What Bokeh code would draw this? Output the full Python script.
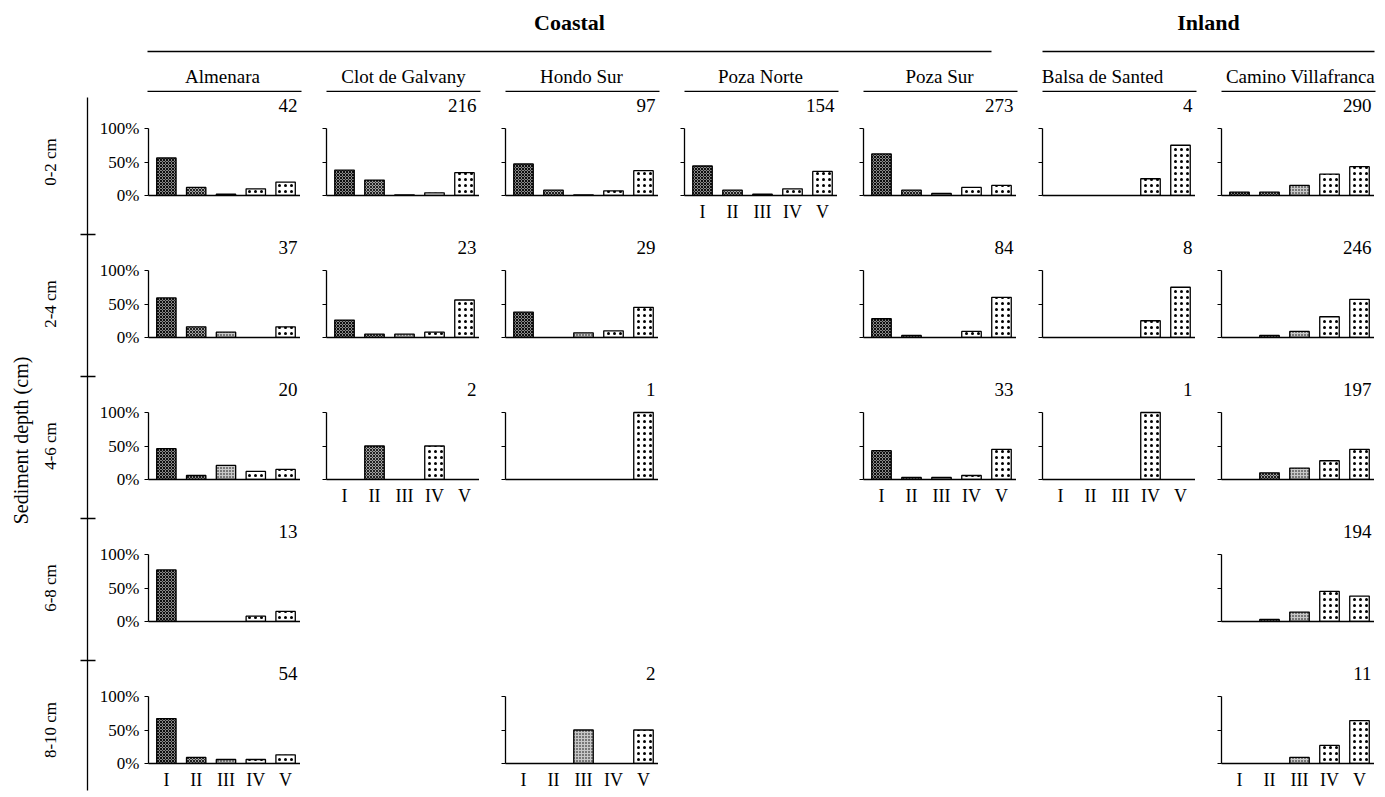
import math
from bokeh.plotting import figure
from bokeh.layouts import row, column
from bokeh.models import Range1d, FixedTicker, Spacer, ColumnDataSource
from bokeh.core.properties import value
from bokeh.embed import file_html
from bokeh.resources import INLINE

# ---------------- data ----------------
classes = ["I", "II", "III", "IV", "V"]
depths = ["0-2 cm", "2-4 cm", "4-6 cm", "6-8 cm", "8-10 cm"]
sites = ["Almenara", "Clot de Galvany", "Hondo Sur", "Poza Norte", "Poza Sur",
         "Balsa de Santed", "Camino Villafranca"]
groups = ["Coastal", "Inland"]
group_sites = [[0, 1, 2, 3, 4], [5, 6]]

# sample counts per depth (None = no panel)
n_almenara = [42, 37, 20, 13, 54]
n_clot = [216, 23, 2, None, None]
n_hondo = [97, 29, 1, None, 2]
n_pozanorte = [154, None, None, None, None]
n_pozasur = [273, 84, 33, None, None]
n_balsa = [4, 8, 1, None, None]
n_camino = [290, 246, 197, 194, 11]

# percentage of each class (I..V) per depth
pct_almenara = [[56, 12, 2, 10, 20], [59, 16, 8, 0, 16], [46, 6, 21, 12, 15],
                [77, 0, 0, 8, 15], [67, 9, 6, 6, 13]]
pct_clot = [[38, 23, 1, 4, 34], [26, 5, 5, 8, 56], [0, 50, 0, 50, 0], None, None]
pct_hondo = [[47, 8, 1, 7, 37], [38, 0, 7, 10, 45], [0, 0, 0, 0, 100], None,
             [0, 0, 50, 0, 50]]
pct_pozanorte = [[44, 8, 2, 10, 36], None, None, None, None]
pct_pozasur = [[62, 8, 3, 12, 15], [28, 3, 0, 9, 60], [43, 3, 3, 6, 45], None, None]
pct_balsa = [[0, 0, 0, 25, 75], [0, 0, 0, 25, 75], [0, 0, 0, 100, 0], None, None]
pct_camino = [[5, 5, 15, 32, 43], [0, 3, 9, 31, 57], [0, 10, 17, 28, 45],
              [0, 3, 14, 45, 38], [0, 0, 9, 27, 64]]

site_n = [n_almenara, n_clot, n_hondo, n_pozanorte, n_pozasur, n_balsa, n_camino]
site_pct = [pct_almenara, pct_clot, pct_hondo, pct_pozanorte, pct_pozasur,
            pct_balsa, pct_camino]

# ---------------- styles / layout ----------------
FONT = "Liberation Serif"
class_fill = ["#8a8a8a", "#a3a3a3", "#c8c8c8", "white", "white"]
class_hatch = ["diagonal_cross", "diagonal_cross", "dot", "dot", "dot"]
class_hscale = [3, 3, 3, 6, 6]
class_hweight = [0.9, 0.8, 1.0, 1.0, 1.0]

LW = 96            # left strip width
HH = 92            # header height
FW = 153           # frame width
FH = 103           # frame height
PXU = 0.67         # pixels per percent
Y_END = FH / PXU
BL1 = 51           # left border col 1
BL = 26            # left border other cols
BB = 39            # bottom border
BB_LAST = 30

col_w = [BL1 + FW] + [BL + FW] * 6
row_h = [FH + BB] * 4 + [FH + BB_LAST]
TW = LW + sum(col_w)
HW = TW + 10       # header a little wider so the last site name fits
LH = sum(row_h)

# page x of each column's y axis
axis_px = []
acc = LW
for ci, w in enumerate(col_w):
    axis_px.append(acc + (BL1 if ci == 0 else BL))
    acc += w


def panel(ci, ri, n, pct, show_y, show_x):
    bb = BB_LAST if ri == 4 else BB
    p = figure(width=col_w[ci], height=FH + bb,
               x_range=Range1d(0.4, 5.5), y_range=Range1d(0, Y_END),
               output_backend="svg", toolbar_location=None,
               min_border_left=(BL1 if ci == 0 else BL), min_border_right=0,
               min_border_top=0, min_border_bottom=bb)
    p.grid.visible = False
    p.outline_line_color = None
    xs, tops, fills, hatches, hs, hw = [], [], [], [], [], []
    for k in range(5):
        if pct[k] > 0:
            xs.append(k + 1)
            tops.append(pct[k])
            fills.append(class_fill[k])
            hatches.append(class_hatch[k])
            hs.append(class_hscale[k])
            hw.append(class_hweight[k])
    src = ColumnDataSource(dict(x=xs, top=tops, fill=fills, hatch=hatches, hs=hs, hw=hw))
    p.vbar(x="x", top="top", bottom=0, width=0.65, source=src,
           fill_color="fill", line_color="black", line_width=1.3,
           hatch_pattern="hatch", hatch_scale="hs", hatch_weight="hw",
           hatch_color="black")
    p.text(x=[5.4], y=[(FH - 12.5) / PXU], text=[str(n)], text_align="right",
           text_baseline="middle", text_font=value(FONT),
           text_font_size="19px", text_color="black")
    yax = p.yaxis[0]
    yax.ticker = FixedTicker(ticks=[0, 50, 100])
    yax.bounds = (0, 100)
    if show_y:
        yax.major_label_overrides = {0: "0%", 50: "50%", 100: "100%"}
    else:
        yax.major_label_overrides = {0: "", 50: "", 100: ""}
    yax.major_label_text_font = FONT
    yax.major_label_text_font_size = "17px"
    yax.major_label_text_color = "black"
    yax.major_label_standoff = 5
    yax.minor_tick_line_color = None
    yax.major_tick_in = 0
    yax.major_tick_out = 4
    yax.axis_line_width = 1.3
    yax.axis_line_color = "black"
    yax.major_tick_line_color = "black"
    xax = p.xaxis[0]
    xax.ticker = FixedTicker(ticks=[1, 2, 3, 4, 5] if show_x else [])
    xax.major_label_overrides = {k + 1: c for k, c in enumerate(classes)}
    xax.major_label_text_font = FONT
    xax.major_label_text_font_size = "18px"
    xax.major_label_text_color = "black"
    xax.major_label_standoff = 6
    xax.minor_tick_line_color = None
    xax.major_tick_in = 0
    xax.major_tick_out = 0
    xax.axis_line_width = 1.3
    xax.axis_line_color = "black"
    return p


# ---------------- header ----------------
hdr = figure(width=HW, height=HH, x_range=Range1d(0, HW), y_range=Range1d(0, HH),
             output_backend="svg", toolbar_location=None,
             x_axis_type=None, y_axis_type=None,
             min_border_left=0, min_border_right=0, min_border_top=0, min_border_bottom=0)
hdr.grid.visible = False
hdr.outline_line_color = None


def hy(py):
    return HH - py


group_end = [axis_px[4] + 128, axis_px[6] + 153]
gx0, gx1, gxc = [], [], []
for gi, gs in enumerate(group_sites):
    a = axis_px[gs[0]]
    b = group_end[gi]
    gx0.append(a); gx1.append(b); gxc.append((a + b) / 2)
hdr.segment(x0=gx0, x1=gx1, y0=[hy(51)] * 2, y1=[hy(51)] * 2,
            line_color="black", line_width=1.3)
hdr.text(x=gxc, y=[hy(22)] * 2, text=groups, text_align="center",
         text_baseline="middle", text_font=value(FONT), text_font_style="bold",
         text_font_size="22px", text_color="black")

site_text_off = [75, 77, 76, 76, 76, 60, 79]
sx0, sx1, sxc = [], [], []
for ci in range(7):
    c = axis_px[ci] + 76
    sx0.append(c - 76); sx1.append(c + 78)
    sxc.append(axis_px[ci] + site_text_off[ci])
hdr.segment(x0=sx0, x1=sx1, y0=[hy(91)] * 7, y1=[hy(91)] * 7,
            line_color="black", line_width=1.3)
hdr.text(x=sxc, y=[hy(76)] * 7, text=sites, text_align="center",
         text_baseline="middle", text_font=value(FONT),
         text_font_size="19px", text_color="black")

# ---------------- left strip ----------------
TOP = HH
left = figure(width=LW, height=LH, x_range=Range1d(0, LW), y_range=Range1d(0, LH),
              output_backend="svg", toolbar_location=None,
              x_axis_type=None, y_axis_type=None,
              min_border_left=0, min_border_right=0, min_border_top=0, min_border_bottom=0)
left.grid.visible = False
left.outline_line_color = None


def ly(py):
    return LH - (py - TOP)


left.segment(x0=[87], x1=[87], y0=[ly(97)], y1=[ly(790)],
             line_color="black", line_width=1.3)
tick_y = []
acc = TOP
for ri in range(4):
    acc += row_h[ri]
    tick_y.append(ly(acc))
left.segment(x0=[80] * 4, x1=[95] * 4, y0=tick_y, y1=tick_y,
             line_color="black", line_width=1.3)
lab_y = [ly(TOP + sum(row_h[:ri]) + FH - 100 * PXU / 2) for ri in range(5)]
left.text(x=[50] * 5, y=lab_y, text=depths, angle=math.pi / 2,
          text_align="center", text_baseline="middle", text_font=value(FONT),
          text_font_size="17px", text_color="black")
left.text(x=[20], y=[ly(440)], text=["Sediment depth (cm)"], angle=math.pi / 2,
          text_align="center", text_baseline="middle", text_font=value(FONT),
          text_font_size="20px", text_color="black")

# ---------------- grid ----------------
last_row = []
for ci in range(7):
    lr = max(ri for ri in range(5) if site_n[ci][ri] is not None)
    last_row.append(lr)

rows_l = []
for ri in range(5):
    cells = []
    for ci in range(7):
        n = site_n[ci][ri]
        h = row_h[ri]
        if n is None:
            cells.append(Spacer(width=col_w[ci], height=h))
        else:
            cells.append(panel(ci, ri, n, site_pct[ci][ri], ci == 0, ri == last_row[ci]))
    rows_l.append(row(*cells, spacing=0))
grid = column(*rows_l, spacing=0)
layout = column(hdr, row(left, grid, spacing=0), spacing=0)

open("out.html", "w").write(file_html(layout, INLINE))
